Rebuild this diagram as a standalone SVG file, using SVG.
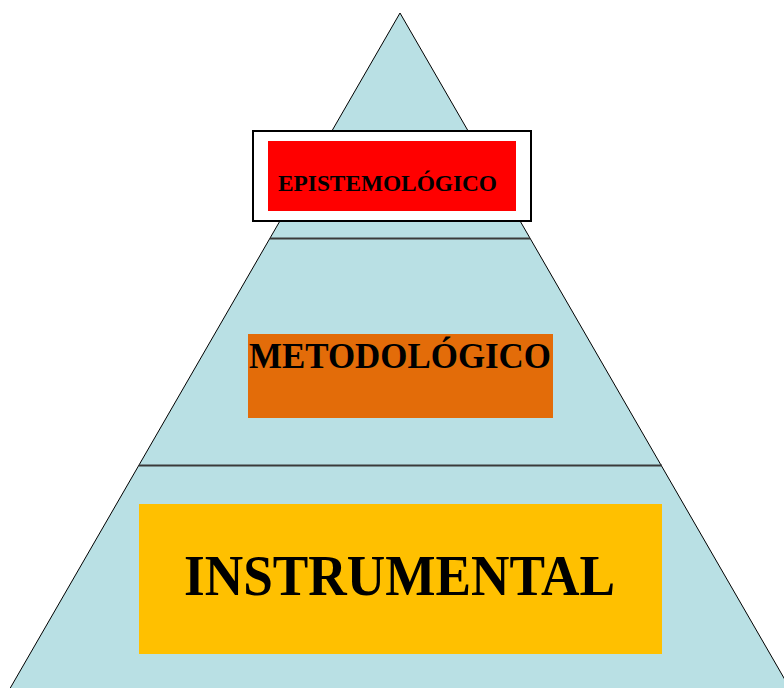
<svg xmlns="http://www.w3.org/2000/svg" width="784" height="688" viewBox="0 0 784 688">
<style>
.lbl{font-family:"Liberation Serif","Times New Roman",serif;font-weight:bold;fill:#000}
.sep{stroke:#3a3a3a;stroke-width:2}
</style>
<rect width="784" height="688" fill="#fff"/>
<g id="pyramid">
<polygon points="400,13 9.4,689.5 790.6,689.5" fill="#B9E0E4" stroke="#000" stroke-width="1"/>
</g>
<g id="connectors">
<line class="sep" x1="270" y1="238.5" x2="530" y2="238.5"/>
<line class="sep" x1="139" y1="465.5" x2="662" y2="465.5"/>
</g>
<g id="epistemologico">
<rect x="253" y="131" width="278" height="90" fill="#fff" stroke="#000" stroke-width="2"/>
<rect x="268" y="141" width="248" height="70" fill="#FF0000"/>
<text class="lbl" x="278" y="191" font-size="23" textLength="219" lengthAdjust="spacingAndGlyphs">EPISTEMOLÓGICO</text>
</g>
<g id="metodologico">
<rect x="248" y="334" width="305" height="84" fill="#E36C09"/>
<text class="lbl" x="249" y="367.5" font-size="35" textLength="302" lengthAdjust="spacingAndGlyphs">METODOLÓGICO</text>
</g>
<g id="instrumental">
<rect x="139" y="504" width="523" height="150" fill="#FFC000"/>
<text class="lbl" x="184" y="595" font-size="56" textLength="431" lengthAdjust="spacingAndGlyphs">INSTRUMENTAL</text>
</g>
</svg>
